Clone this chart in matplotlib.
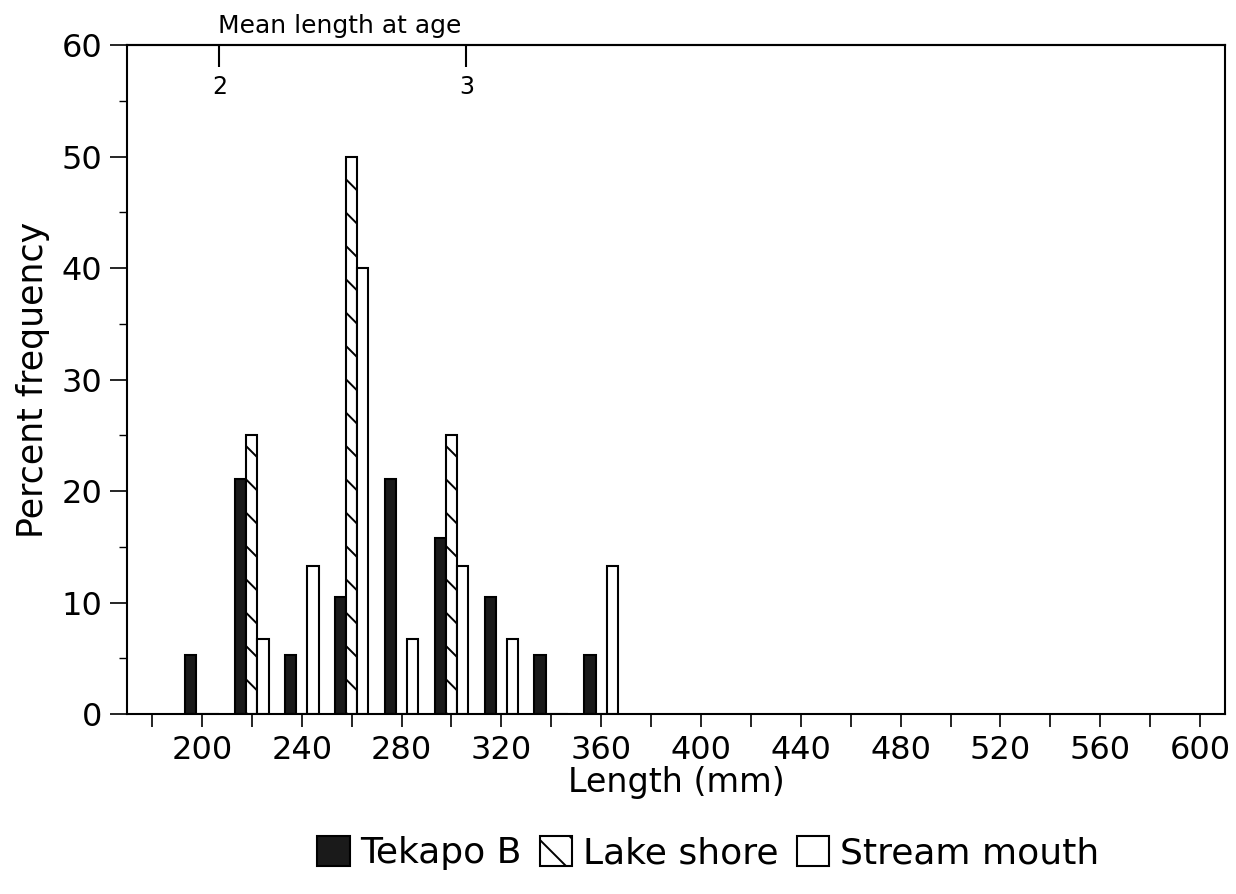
import numpy as np
import matplotlib
matplotlib.use("Agg")
import matplotlib.pyplot as plt
from matplotlib.ticker import MultipleLocator

plt.rcParams['font.family'] = ['DejaVu Sans']
plt.rcParams['hatch.linewidth'] = 1.4

# Length classes (mm) and percent frequency per site
length_bins = [200, 220, 240, 260, 280, 300, 320, 340, 360]
tekapo_b = [5.3, 21.1, 5.3, 10.5, 21.1, 15.8, 10.5, 5.3, 5.3]
lake_shore = [0, 25, 0, 50, 0, 25, 0, 0, 0]
stream_mouth = [0, 6.7, 13.3, 40, 6.7, 13.3, 6.7, 0, 13.3]

# Mean length at age (top axis)
age_labels = ['2', '3']
age_lengths = [207, 306]

fig = plt.figure(figsize=(12.36, 8.94), dpi=100)
ax = fig.add_axes([0.1028, 0.2013, 0.8883, 0.7483])

x = np.array(length_bins)
w = 4.5
lw = 1.5
ax.bar(x - w, tekapo_b, width=w, color='#1a1a1a', edgecolor='black', linewidth=lw, label='Tekapo B')
ax.bar(x, lake_shore, width=w, color='white', edgecolor='black', hatch='\\', linewidth=lw, label='Lake shore')
ax.bar(x + w, stream_mouth, width=w, color='white', edgecolor='black', linewidth=lw, label='Stream mouth')

ax.set_xlim(170, 610)
ax.set_ylim(0, 60)
ax.xaxis.set_major_locator(MultipleLocator(40))
ax.xaxis.set_minor_locator(MultipleLocator(20))
ax.yaxis.set_major_locator(MultipleLocator(10))
ax.yaxis.set_minor_locator(MultipleLocator(5))

ax.tick_params(axis='x', which='both', direction='out', length=9, width=1.2, labelsize=23, pad=6)
ax.tick_params(axis='y', which='major', direction='out', length=12, width=1.2, labelsize=23, pad=6)
ax.tick_params(axis='y', which='minor', direction='out', length=6, width=1.0)

for s in ax.spines.values():
    s.set_linewidth(1.5)

ax.set_xlabel('Length (mm)', fontsize=24, labelpad=0)
ax.set_ylabel('Percent frequency', fontsize=25, labelpad=8)

sec = ax.secondary_xaxis('top')
sec.set_xticks(age_lengths, labels=age_labels)
sec.tick_params(direction='in', length=16, width=1.5, labelsize=17, pad=-39)
sec.spines['top'].set_linewidth(1.5)

ax.annotate('Mean length at age', xy=(age_lengths[0], 1), xycoords=('data', 'axes fraction'),
            xytext=(-1, 5), textcoords='offset points', ha='left', va='bottom', fontsize=18)

fig.legend(loc='center', bbox_to_anchor=(0.573, 0.046), ncol=3, frameon=False, fontsize=26,
           handlelength=0.9, handleheight=0.9, handletextpad=0.3, columnspacing=0.5)

fig.savefig('out.png', dpi=100)
